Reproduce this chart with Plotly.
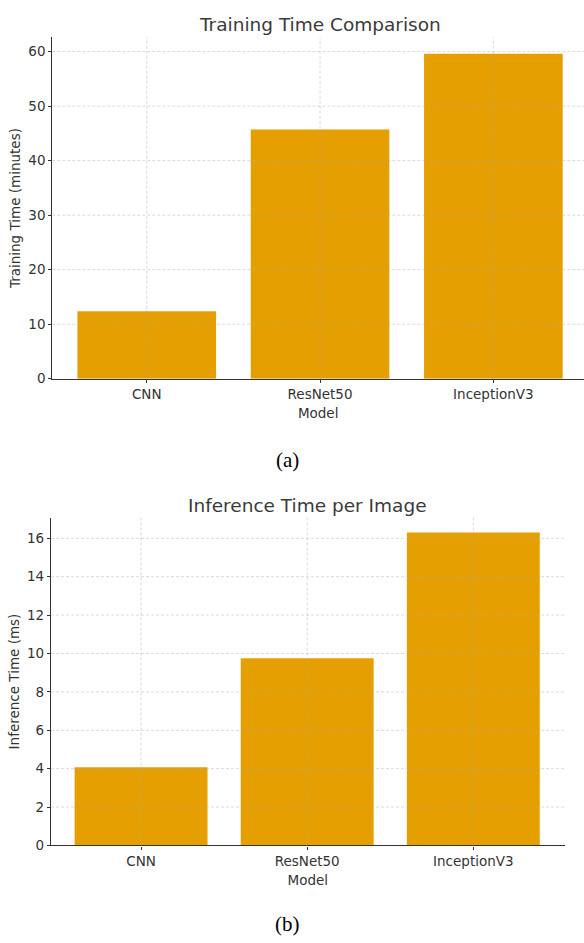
import plotly.graph_objects as go

W, H = 584, 943

# ---- data ----
models = ["CNN", "ResNet50", "InceptionV3"]
training_minutes = [12.4, 45.7, 59.6]
inference_ms = [4.07, 9.75, 16.3]
train_ticks = [0, 10, 20, 30, 40, 50, 60]
infer_ticks = [0, 2, 4, 6, 8, 10, 12, 14, 16]

BAR = "#E69F00"
TXT = "#333333"
FONT = "DejaVu Sans"
GRID = "rgba(170,170,170,0.55)"

def px(p):
    return p / W

def py(p):
    return 1 - p / H

fig = go.Figure()
fig.add_trace(go.Bar(x=models, y=training_minutes, width=0.8, marker=dict(color=BAR, line=dict(width=0)),
                     xaxis="x", yaxis="y", showlegend=False, hoverinfo="skip"))
fig.add_trace(go.Bar(x=models, y=inference_ms, width=0.8, marker=dict(color=BAR, line=dict(width=0)),
                     xaxis="x2", yaxis="y2", showlegend=False, hoverinfo="skip"))

axis_common = dict(showgrid=False, zeroline=False, showline=True, linecolor=TXT, linewidth=1.2,
                   ticks="outside", ticklen=3, tickwidth=1, tickcolor=TXT,
                   tickfont=dict(family=FONT, size=13.5, color=TXT))
title_font = dict(family=FONT, size=13.5, color=TXT)

fig.update_layout(
    width=W, height=H, margin=dict(l=0, r=0, t=0, b=0),
    paper_bgcolor="white", plot_bgcolor="white",
    xaxis=dict(domain=[px(52.3), 1.0], range=[-0.545, 2.523], anchor="y",
               title=dict(text="Model", font=title_font, standoff=7),
               **axis_common),
    yaxis=dict(domain=[py(382), py(37.7)], range=[0, 62.6], anchor="x",
               tickvals=train_ticks,
               title=dict(text="Training Time (minutes)", font=title_font, standoff=4),
               **axis_common),
    xaxis2=dict(domain=[px(51), px(564.7)], range=[-0.542, 2.55], anchor="y2",
                title=dict(text="Model", font=title_font, standoff=7),
                **axis_common),
    yaxis2=dict(domain=[py(852.7), py(522)], range=[0, 17.08], anchor="x2",
                tickvals=infer_ticks,
                title=dict(text="Inference Time (ms)", font=title_font, standoff=4),
                **axis_common),
)

# grid lines drawn above the bars (as in the reference)
shapes = []
for xa, ya, ticks in (("x", "y", train_ticks), ("x2", "y2", infer_ticks)):
    for m in models:
        shapes.append(dict(type="line", xref=xa, yref=ya + " domain", x0=m, x1=m, y0=0, y1=1,
                           line=dict(color=GRID, width=0.8, dash="3px,2px"), layer="above"))
    for t in ticks[1:]:
        shapes.append(dict(type="line", xref=xa + " domain", yref=ya, x0=0, x1=1, y0=t, y1=t,
                           line=dict(color=GRID, width=0.8, dash="3px,2px"), layer="above"))
fig.update_layout(shapes=shapes)

annotations = [
    dict(text="Training Time Comparison", x=px(319.7), y=py(25), xref="paper", yref="paper",
         showarrow=False, xanchor="center", yanchor="middle",
         font=dict(family=FONT, size=18.5, color="#3a3a3a")),
    dict(text="Inference Time per Image", x=px(307.6), y=py(510), xref="paper", yref="paper",
         showarrow=False, xanchor="center", yanchor="middle",
         font=dict(family=FONT, size=18.5, color="#3a3a3a")),
    dict(text="(a)", x=px(287), y=py(464), xref="paper", yref="paper",
         showarrow=False, xanchor="center", yanchor="middle",
         font=dict(family="Liberation Serif", size=21, color="black")),
    dict(text="(b)", x=px(287), y=py(932), xref="paper", yref="paper",
         showarrow=False, xanchor="center", yanchor="middle",
         font=dict(family="Liberation Serif", size=21, color="black")),
]
fig.update_layout(annotations=annotations)

fig.write_html("out.html", config={"displayModeBar": False},
               post_script="document.body.style.margin='0';document.body.style.overflow='hidden';")
